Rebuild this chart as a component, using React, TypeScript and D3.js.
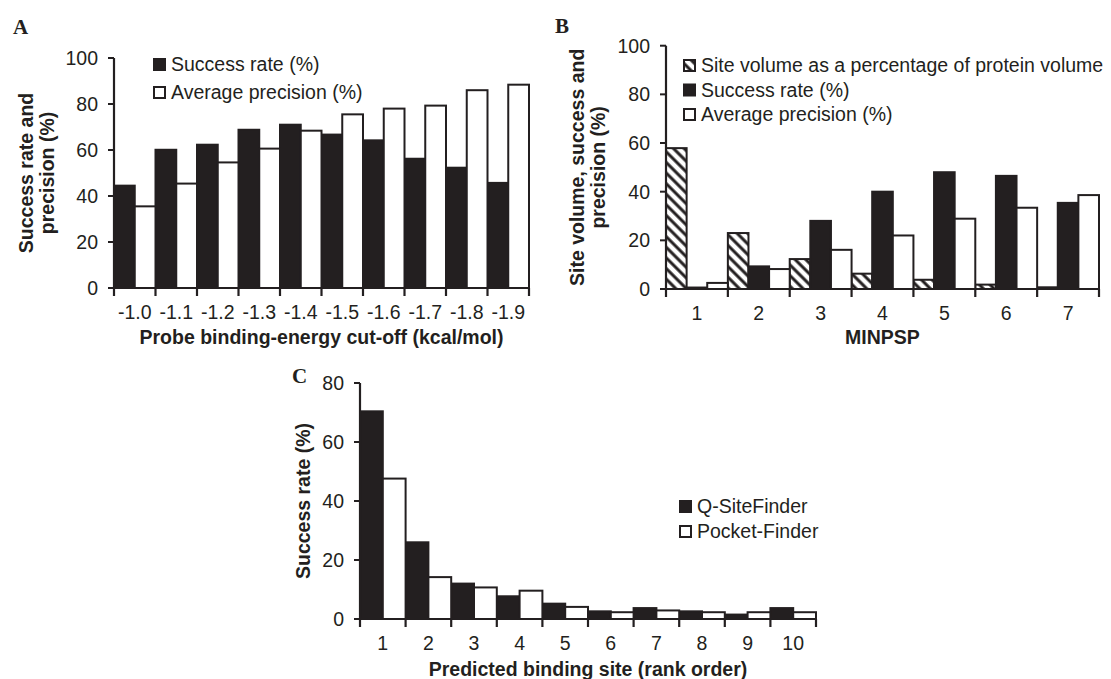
import React, { useEffect, useRef } from "react";
import * as d3 from "d3";

const INK = "#231f20";
const SANS = "'Liberation Sans', Arial, sans-serif";
const SERIF = "'Liberation Serif', 'Times New Roman', serif";

// panel A - probe binding-energy cut-off
const cutoffs = ["-1.0", "-1.1", "-1.2", "-1.3", "-1.4", "-1.5", "-1.6", "-1.7", "-1.8", "-1.9"];
const successA = [44.5, 60.1, 62.3, 68.8, 71, 66.7, 64.2, 56.2, 52.3, 45.7];
const precisionA = [35.5, 45.4, 54.6, 60.6, 68.4, 75.5, 78, 79.3, 86, 88.4];
const ticksA = [0, 20, 40, 60, 80, 100];

// panel B - MINPSP
const minpsp = ["1", "2", "3", "4", "5", "6", "7"];
const siteVolB = [57.9, 23, 12.3, 6.3, 3.8, 1.8, 0.7];
const successB = [0.6, 9.3, 28, 40, 48, 46.5, 35.4];
const precisionB = [2.5, 8.2, 16.1, 22, 28.9, 33.4, 38.6];
const ticksB = [0, 20, 40, 60, 80, 100];

// panel C - rank order
const ranks = ["1", "2", "3", "4", "5", "6", "7", "8", "9", "10"];
const qSite = [70.4, 26, 12, 7.7, 5.2, 2.6, 3.7, 2.6, 1.5, 3.7];
const pocket = [47.6, 14.2, 10.7, 9.6, 4.1, 2.3, 2.9, 2.3, 2.3, 2.3];
const ticksC = [0, 20, 40, 60, 80];

const drawPanel = (svg, o) => {
  const x = d3.scaleBand().domain(o.cats).range([o.left, o.right]).padding(0);
  const inner = d3
    .scaleBand()
    .domain(d3.range(o.series.length))
    .range([0, x.bandwidth()])
    .padding(0);
  const y = d3.scaleLinear().domain([0, o.yMax]).range([o.bottom, o.top]);
  const g = svg.append("g");

  // bars
  o.series.forEach((s, si) => {
    g.selectAll(null)
      .data(s.values)
      .enter()
      .append("rect")
      .attr("x", (_, i) => x(o.cats[i]) + inner(si))
      .attr("y", (d) => y(d))
      .attr("width", inner.bandwidth())
      .attr("height", (d) => o.bottom - y(d))
      .attr("fill", s.fill)
      .attr("stroke", INK)
      .attr("stroke-width", 2);
  });

  // axes
  g.append("line")
    .attr("x1", o.left).attr("x2", o.left)
    .attr("y1", o.bottom).attr("y2", y(o.yMax))
    .attr("stroke", INK).attr("stroke-width", 2.2);
  g.append("line")
    .attr("x1", o.left - 6).attr("x2", o.right + 1)
    .attr("y1", o.bottom).attr("y2", o.bottom)
    .attr("stroke", INK).attr("stroke-width", 2.2);

  g.selectAll(null)
    .data(o.yTicks)
    .enter()
    .append("line")
    .attr("x1", o.left - 6).attr("x2", o.left)
    .attr("y1", (d) => y(d)).attr("y2", (d) => y(d))
    .attr("stroke", INK).attr("stroke-width", 2);
  g.selectAll(null)
    .data(o.yTicks)
    .enter()
    .append("text")
    .attr("x", o.left - 16)
    .attr("y", (d) => y(d) + 7)
    .attr("text-anchor", "end")
    .style("font-family", SANS)
    .style("font-size", "19.5px")
    .attr("fill", INK)
    .text((d) => d);

  const bounds = [...o.cats.map((c) => x(c)), o.right];
  g.selectAll(null)
    .data(bounds)
    .enter()
    .append("line")
    .attr("x1", (d) => d).attr("x2", (d) => d)
    .attr("y1", o.bottom).attr("y2", o.bottom + 8)
    .attr("stroke", INK).attr("stroke-width", 2.2);
  g.selectAll(null)
    .data(o.cats)
    .enter()
    .append("text")
    .attr("x", (d) => x(d) + x.bandwidth() / 2)
    .attr("y", o.bottom + 30.5)
    .attr("text-anchor", "middle")
    .style("font-family", SANS)
    .style("font-size", "19.5px")
    .attr("fill", INK)
    .text((d) => d);

  // titles
  g.append("text")
    .attr("x", (o.left + o.right) / 2)
    .attr("y", o.xTitleY)
    .attr("text-anchor", "middle")
    .style("font-family", SANS)
    .style("font-size", "19.5px")
    .style("font-weight", "bold")
    .attr("fill", INK)
    .text(o.xTitle);

  const cy = (o.bottom + y(o.yMax)) / 2;
  o.yTitle.forEach((line, i) => {
    g.append("text")
      .attr("transform", `translate(${o.yTitleX + i * 21},${cy}) rotate(-90)`)
      .attr("text-anchor", "middle")
      .style("font-family", SANS)
      .style("font-size", "19.5px")
      .style("font-weight", "bold")
      .attr("fill", INK)
      .text(line);
  });

  // legend
  o.legend.forEach((l, i) => {
    const ly = o.legendY + i * o.legendStep;
    g.append("rect")
      .attr("x", o.legendX)
      .attr("y", ly - 12)
      .attr("width", 11)
      .attr("height", 11)
      .attr("fill", l.fill)
      .attr("stroke", INK)
      .attr("stroke-width", 2);
    g.append("text")
      .attr("x", o.legendX + 17)
      .attr("y", ly)
      .style("font-family", SANS)
      .style("font-size", "19.5px")
      .attr("fill", INK)
      .text(l.label);
  });

  // panel letter
  g.append("text")
    .attr("x", o.letterX)
    .attr("y", o.letterY)
    .style("font-family", SERIF)
    .style("font-size", "21px")
    .style("font-weight", "bold")
    .attr("fill", INK)
    .text(o.letter);
};

const App = () => {
  const svgRef = useRef();

  useEffect(() => {
    const svg = d3.select(svgRef.current);
    svg.selectAll("*").remove();

    const defs = svg.append("defs");
    const pat = defs
      .append("pattern")
      .attr("id", "hatch")
      .attr("patternUnits", "userSpaceOnUse")
      .attr("width", 7.5)
      .attr("height", 7.5)
      .attr("patternTransform", "rotate(-45)");
    pat.append("rect").attr("width", 7.5).attr("height", 7.5).attr("fill", "white");
    pat.append("line")
      .attr("x1", 3.75).attr("x2", 3.75)
      .attr("y1", 0).attr("y2", 7.5)
      .attr("stroke", INK).attr("stroke-width", 3);

    drawPanel(svg, {
      letter: "A", letterX: 13, letterY: 34,
      cats: cutoffs,
      series: [
        { values: successA, fill: INK },
        { values: precisionA, fill: "white" },
      ],
      left: 114, right: 529, top: 58, bottom: 288,
      yMax: 100, yTicks: ticksA,
      xTitle: "Probe binding-energy cut-off (kcal/mol)", xTitleY: 344,
      yTitle: ["Success rate and", "precision (%)"], yTitleX: 33,
      legend: [
        { fill: INK, label: "Success rate (%)" },
        { fill: "white", label: "Average precision (%)" },
      ],
      legendX: 154, legendY: 71, legendStep: 28,
    });

    drawPanel(svg, {
      letter: "B", letterX: 555, letterY: 33,
      cats: minpsp,
      series: [
        { values: siteVolB, fill: "url(#hatch)" },
        { values: successB, fill: INK },
        { values: precisionB, fill: "white" },
      ],
      left: 666, right: 1099, top: 45.7, bottom: 289,
      yMax: 100, yTicks: ticksB,
      xTitle: "MINPSP", xTitleY: 344,
      yTitle: ["Site volume, success and", "precision (%)"], yTitleX: 584,
      legend: [
        { fill: "url(#hatch)", label: "Site volume as a percentage of protein volume" },
        { fill: INK, label: "Success rate (%)" },
        { fill: "white", label: "Average precision (%)" },
      ],
      legendX: 684, legendY: 72, legendStep: 24.5,
    });

    drawPanel(svg, {
      letter: "C", letterX: 292, letterY: 383,
      cats: ranks,
      series: [
        { values: qSite, fill: INK },
        { values: pocket, fill: "white" },
      ],
      left: 360, right: 816, top: 383, bottom: 619,
      yMax: 80, yTicks: ticksC,
      xTitle: "Predicted binding site (rank order)", xTitleY: 676,
      yTitle: ["Success rate (%)"], yTitleX: 310,
      legend: [
        { fill: INK, label: "Q-SiteFinder" },
        { fill: "white", label: "Pocket-Finder" },
      ],
      legendX: 680, legendY: 513, legendStep: 25,
    });
  }, []);

  return (
    <div style={{ position: "absolute", left: 0, top: 0 }}>
      <svg ref={svgRef} width={1111} height={679} style={{ display: "block", background: "white" }}></svg>
    </div>
  );
};

export default App;
